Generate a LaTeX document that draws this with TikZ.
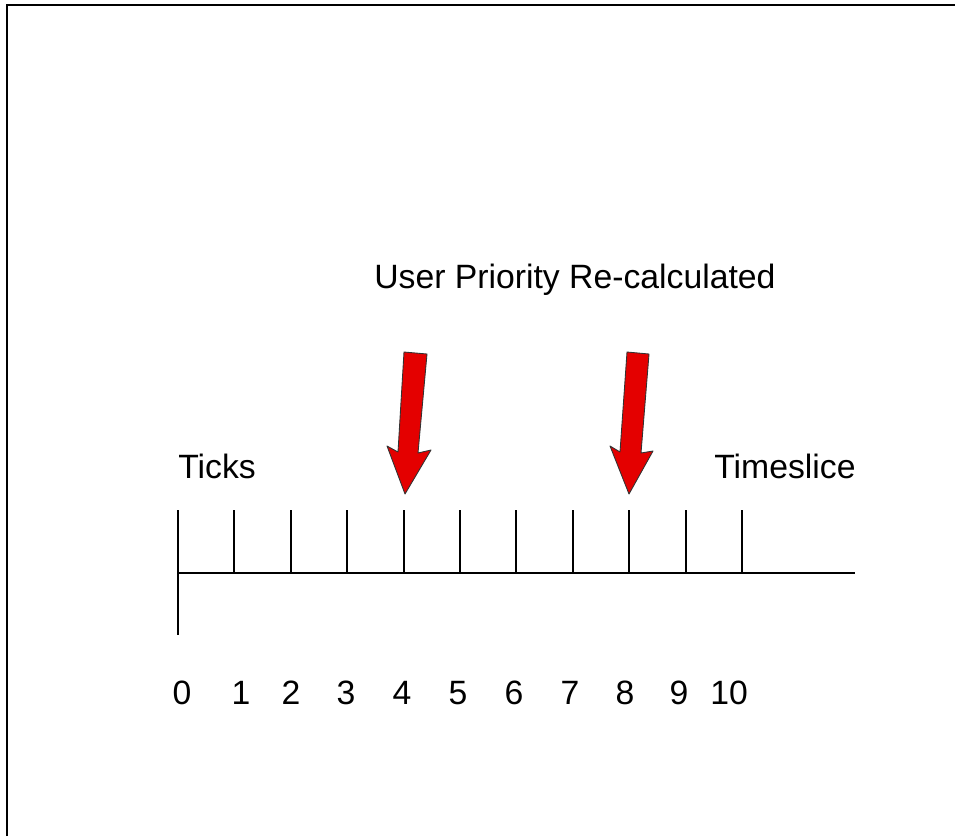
\documentclass[tikz,border=0pt]{standalone}
\usepackage{fontspec}
\setmainfont{Liberation Sans}
\usetikzlibrary{positioning}

\definecolor{arrowred}{RGB}{228,0,0}

\begin{document}
\begin{tikzpicture}[
		x=0.02cm, y=-0.02cm,
		frame/.style={line width=1.2pt},
		tick/.style={line width=0.8pt},
		label style/.style={font=\fontsize{19.2}{22}\selectfont,inner sep=0pt},
		num/.style={label style,anchor=base},
		bigarrow/.style={fill=arrowred,draw=black!80,line width=0.5pt,line join=round}
		]
		\useasboundingbox (0,0) rectangle (955,836);
		
		% Frame
		\draw[frame] (7,836) -- (7,5) -- (955,5);
		
		% Time axis
		\coordinate (start) at (178,573);
		\coordinate (end) at (855,573);
		\draw[tick] (start) -- (end);
		\draw[tick] (178,510) -- (178,635);
		
		% Ticks
		\draw[tick] (234,510) -- (234,573);
		\draw[tick] (291,510) -- (291,573);
		\draw[tick] (347,510) -- (347,573);
		\draw[tick] (404,510) -- (404,573);
		\draw[tick] (460,510) -- (460,573);
		\draw[tick] (516,510) -- (516,573);
		\draw[tick] (573,510) -- (573,573);
		\draw[tick] (629,510) -- (629,573);
		\draw[tick] (686,510) -- (686,573);
		\draw[tick] (742,510) -- (742,573);
		
		% Labels
		\node[label style,anchor=base west] (ticks) at (178,478) {Ticks};
		\node[label style,anchor=base west] (timeslice) at (714,478) {Timeslice};
		\node[label style,anchor=base west] (recalc) at (374,288) {User Priority Re-calculated};
		
		% Tick numbers
		\node[num] (n0) at (182,704) {0};
		\node[num] (n1) at (241,704) {1};
		\node[num] (n2) at (291,704) {2};
		\node[num] (n3) at (346,704) {3};
		\node[num] (n4) at (402,704) {4};
		\node[num] (n5) at (458,704) {5};
		\node[num] (n6) at (514,704) {6};
		\node[num] (n7) at (570,704) {7};
		\node[num] (n8) at (625,704) {8};
		\node[num] (n9) at (679,704) {9};
		\node[num] (n10) at (729,704) {10};
		
		% Recalculation arrows
		\draw[bigarrow] (404,352) -- (427,354) -- (418,453) -- (431,450) -- (405,494)
			-- (387,446) -- (398,452) -- cycle;
		\draw[bigarrow] (627,352) -- (649,354) -- (641,453) -- (653,451) -- (629,494)
			-- (610,446) -- (620,452) -- cycle;
		
	\end{tikzpicture}
\end{document}
